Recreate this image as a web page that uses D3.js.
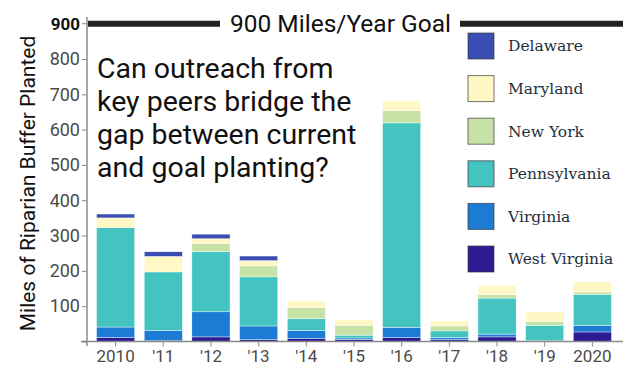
<!DOCTYPE html>
<html>
<head>
<meta charset="utf-8">
<script src="https://cdn.jsdelivr.net/npm/d3@7"></script>
<style>
  body { margin: 0; background: #fff; }
  svg { display: block; }
</style>
</head>
<body>
<svg id="chart"></svg>
<script>
// chart data (miles per year, stacked bottom -> top)
var years = ["2010", "2011", "2012", "2013", "2014", "2015", "2016", "2017", "2018", "2019", "2020"];
var yearLabels = ["2010", "'11", "'12", "'13", "'14", "'15", "'16", "'17", "'18", "'19", "2020"];
var states = ["West Virginia", "Virginia", "Pennsylvania", "New York", "Maryland", "Delaware"];
var westVirginia = [11, 2, 13, 5, 8, 5, 11, 5, 13, 0, 27];
var virginia     = [30, 29, 71, 39, 23, 5, 29, 6, 8, 2, 19];
var pennsylvania = [281, 166, 170, 139, 34, 8, 579, 19, 102, 44, 87];
var newYork      = [0, 0, 23, 31, 31, 28, 35, 14, 10, 10, 7];
var maryland     = [28, 44, 14, 15, 19, 16, 28, 14, 26, 28, 29];
var delaware     = [11, 13, 13, 13, 0, 0, 0, 0, 0, 0, 0];
var yTicks = [0, 100, 200, 300, 400, 500, 600, 700, 800];
var goal = 900;
var legendOrder = ["Delaware", "Maryland", "New York", "Pennsylvania", "Virginia", "West Virginia"];
var question = ["Can outreach from", "key peers bridge the", "gap between current", "and goal planting?"];

var COLORS = {
  "Delaware": "#3a4db2",
  "Maryland": "#fff8c4",
  "New York": "#c7e2a6",
  "Pennsylvania": "#44c4c0",
  "Virginia": "#1c7bd2",
  "West Virginia": "#2d1b93"
};
var AXIS_COLOR = '#8a8a8a';
var TICK_TEXT = '#4a4a4a';

var W = 623, H = 369;
var seriesByState = {
  "West Virginia": westVirginia,
  "Virginia": virginia,
  "Pennsylvania": pennsylvania,
  "New York": newYork,
  "Maryland": maryland,
  "Delaware": delaware
};

var rows = years.map(function(y, i) {
  var r = { year: y };
  states.forEach(function(s) { r[s] = seriesByState[s][i]; });
  return r;
});

var svg = d3.select("#chart").attr("width", W).attr("height", H);

var xScale = d3.scaleBand().domain(years).range([87, 621])
  .paddingInner(0.2).paddingOuter(0.2);
var yScale = d3.scaleLinear().domain([0, 900]).range([341.5, 23.7]);

var stack = d3.stack().keys(states)(rows);

// bars
svg.append("g").selectAll("g")
  .data(stack)
  .enter().append("g")
    .attr("fill", function(d) { return COLORS[d.key]; })
  .selectAll("rect")
  .data(function(d) { return d; })
  .enter().append("rect")
    .attr("x", function(d) { return xScale(d.data.year); })
    .attr("width", xScale.bandwidth())
    .attr("y", function(d) { return yScale(d[1]); })
    .attr("height", function(d) { return Math.max(0, yScale(d[0]) - yScale(d[1])); })
    .attr("stroke", "#fff")
    .attr("stroke-width", 0.4);

// y axis
var yAxis = svg.append("g")
  .attr("transform", "translate(87,0)")
  .call(d3.axisLeft(yScale).tickValues(yTicks).tickSize(5).tickPadding(2)
    .tickFormat(function(d) { return d === 0 ? "" : d; }));
yAxis.select(".domain").remove();
yAxis.selectAll("line").attr("stroke", AXIS_COLOR);
yAxis.selectAll("text")
  .attr("fill", TICK_TEXT)
  .style("font-family", "Roboto")
  .style("font-size", "18px");

svg.append("line")
  .attr("x1", 87).attr("x2", 87)
  .attr("y1", 17).attr("y2", 346)
  .attr("stroke", AXIS_COLOR).attr("stroke-width", 1.5);

// "900" goal label
svg.append("text")
  .attr("x", 80).attr("y", yScale(goal))
  .attr("dy", "0.35em")
  .attr("text-anchor", "end")
  .style("font-family", "Roboto")
  .style("font-weight", "bold")
  .style("font-size", "17px")
  .attr("fill", "#111")
  .text(goal);
svg.append("line")
  .attr("x1", 82).attr("x2", 87)
  .attr("y1", yScale(goal)).attr("y2", yScale(goal))
  .attr("stroke", AXIS_COLOR);

// x axis
var xAxis = svg.append("g")
  .attr("transform", "translate(0," + yScale(0) + ")")
  .call(d3.axisBottom(xScale).tickSize(5).tickPadding(3)
    .tickFormat(function(d, i) { return yearLabels[i]; }));
xAxis.select(".domain").remove();
xAxis.selectAll("line").attr("stroke", AXIS_COLOR);
xAxis.selectAll("text")
  .attr("fill", TICK_TEXT)
  .style("font-family", "Roboto")
  .style("font-size", "17px");
svg.append("line")
  .attr("x1", 81).attr("x2", 623)
  .attr("y1", yScale(0)).attr("y2", yScale(0))
  .attr("stroke", AXIS_COLOR).attr("stroke-width", 1.5);

// goal line with label in the middle
var gy = yScale(goal);
var goalText = svg.append("text")
  .attr("x", 340.5).attr("y", gy)
  .attr("dy", "0.35em")
  .attr("text-anchor", "middle")
  .style("font-family", "Roboto")
  .style("font-size", "24.5px")
  .attr("fill", "#111")
  .text("900 Miles/Year Goal");
var tw = goalText.node().getComputedTextLength();
svg.append("line")
  .attr("x1", 88).attr("x2", 340.5 - tw / 2 - 10)
  .attr("y1", gy).attr("y2", gy)
  .attr("stroke", "#222").attr("stroke-width", 6);
svg.append("line")
  .attr("x1", 340.5 + tw / 2 + 9).attr("x2", W)
  .attr("y1", gy).attr("y2", gy)
  .attr("stroke", "#222").attr("stroke-width", 6);

// y axis title
svg.append("text")
  .attr("transform", "translate(35," + 183.5 + ") rotate(-90)")
  .attr("text-anchor", "middle")
  .style("font-family", "Roboto")
  .style("font-size", "21px")
  .attr("fill", "#111")
  .text("Miles of Riparian Buffer Planted");

// annotation
svg.append("text")
  .attr("x", 97).attr("y", 78)
  .style("font-family", "Roboto")
  .style("font-size", "28.5px")
  .attr("fill", "#111")
  .selectAll("tspan")
  .data(question)
  .enter().append("tspan")
    .attr("x", 97)
    .attr("dy", function(d, i) { return i === 0 ? 0 : 33; })
    .text(function(d) { return d; });

// legend
var legend = svg.append("g").selectAll("g")
  .data(legendOrder)
  .enter().append("g")
    .attr("transform", function(d, i) { return "translate(468," + (33 + i * 42.6) + ")"; });
legend.append("rect")
  .attr("width", 26).attr("height", 26)
  .attr("fill", function(d) { return COLORS[d]; })
  .attr("stroke", "#3b3b3b").attr("stroke-opacity", 0.7)
  .attr("stroke-width", 1);
legend.append("text")
  .attr("x", 40).attr("y", 13)
  .attr("dy", "0.35em")
  .style("font-family", "DejaVu Serif")
  .style("font-size", "15.5px")
  .attr("fill", "#1e3040")
  .text(function(d) { return d; });
</script>
</body>
</html>
